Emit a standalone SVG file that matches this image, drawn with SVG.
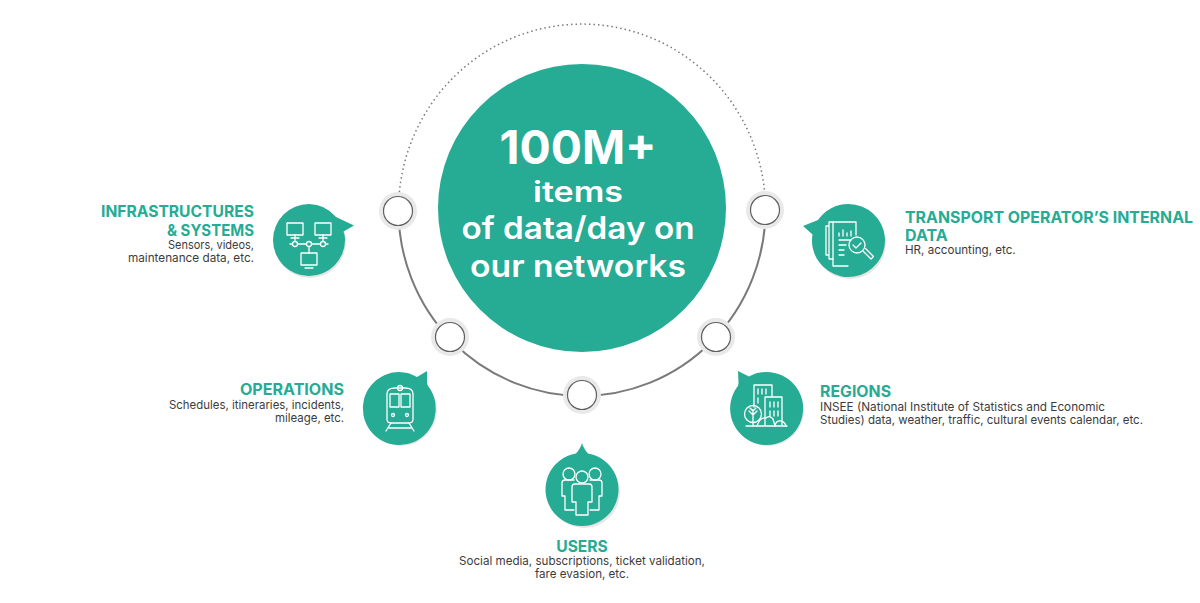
<svg xmlns="http://www.w3.org/2000/svg" width="1200" height="603" viewBox="0 0 1200 603">
<style>
text{font-family:"Inter","Open Sans","Liberation Sans",sans-serif}
.h{font-weight:700;font-size:15.600px;fill:#26ab94}
.b{font-size:11.600px;fill:#3c3c3c}
.c{font-weight:700;fill:#fff;text-anchor:middle}
.s{font-weight:600;font-size:31px}
.e{text-anchor:end}.m{text-anchor:middle}
.bub{fill:#26ab94}
.sh{fill:#000;opacity:.1}
.i{fill:none;stroke:#fff;stroke-width:1.3;stroke-linecap:round;stroke-linejoin:round}
.halo{fill:#e9e9e9}
.dot{fill:#fff;stroke:#5f5f5f;stroke-width:1.2}
</style>
<g id="connectors" fill="none" stroke="#7a7a7a">
<path d="M398.500 210A183.500 186 0 0 1 765.500 210" stroke-width="1.500" stroke-dasharray="1.500 3"/>
<path d="M398.500 210A183.500 186 0 0 0 765.500 210" stroke-width="2"/>
</g>
<g id="center">
<circle cx="582" cy="208" r="144" fill="#26ab94"/>
<text class="c" x="578" y="164" font-size="46" textLength="157" lengthAdjust="spacingAndGlyphs">100M+</text>
<text class="c" x="578" y="202" font-size="28" style="font-weight:600" textLength="90" lengthAdjust="spacingAndGlyphs">items</text>
<text class="c s" x="578" y="239" textLength="233" lengthAdjust="spacingAndGlyphs">of data/day on</text>
<text class="c s" x="578" y="277" textLength="216" lengthAdjust="spacingAndGlyphs">our networks</text>
</g>
<g id="port-1"><circle class="halo" cx="398" cy="211" r="19"/><circle class="dot" cx="398" cy="211" r="14.500"/></g>
<g id="port-2"><circle class="halo" cx="765" cy="210" r="19"/><circle class="dot" cx="765" cy="210" r="14.500"/></g>
<g id="port-3"><circle class="halo" cx="450" cy="337" r="19"/><circle class="dot" cx="450" cy="337" r="14.500"/></g>
<g id="port-4"><circle class="halo" cx="716" cy="337" r="19"/><circle class="dot" cx="716" cy="337" r="14.500"/></g>
<g id="port-5"><circle class="halo" cx="582" cy="395" r="19"/><circle class="dot" cx="582" cy="395" r="14.500"/></g>

<g id="infrastructures">
<circle class="sh" cx="310" cy="242" r="36"/>
<path class="bub" d="M309 204a36 36 0 1 0 36 36c0-3-.5-6-1.500-8.500L354 225.500 336 217a36 36 0 0 0-27-13z"/>
<g class="i">
<rect x="287" y="223" width="16" height="12"/><rect x="315" y="223" width="16" height="12"/><rect x="301" y="253" width="16" height="12"/>
<path d="M291 238h8M319 238h8M295 235v6M323 235v6M309 247v6M305 268h8"/>
<path d="M290 244h2.500M298 244h8M312 244h8M326 244h2"/><circle cx="295" cy="244" r="2.500"/><circle cx="309" cy="244" r="2.500"/><circle cx="323" cy="244" r="2.500"/>
</g>
<text class="h e" x="254" y="217" textLength="153" lengthAdjust="spacingAndGlyphs">INFRASTRUCTURES</text>
<text class="h e" x="254" y="236" textLength="87" lengthAdjust="spacingAndGlyphs">&amp; SYSTEMS</text>
<text class="b e" x="254" y="249" textLength="86" lengthAdjust="spacingAndGlyphs">Sensors, videos,</text>
<text class="b e" x="254" y="262" textLength="126" lengthAdjust="spacingAndGlyphs">maintenance data, etc.</text>
</g>

<g id="internal-data">
<circle class="sh" cx="850" cy="243" r="36"/>
<path class="bub" d="M848.500 204a36.500 36.500 0 1 1-35.500 45c-.7-3-1-5.500-1-8.500 0-2 .2-4 .5-6L803 226l15-6a36.500 36.500 0 0 1 30.500-16z"/>
<g class="i">
<path d="M829 226h-3v29h3M833 222h-4v37h4"/><path d="M856 235v-13h-23v44h15"/>
<path d="M839 236v-3M843 236v-6M847 236v-3M851 236v-5M839 240h12M839 245h7M839 250h5M839 255h5"/>
<circle cx="857" cy="245" r="8"/><path d="M853 245l3 3 5-5M863 251l8 8 2.500-2.500-8-8"/>
</g>
<text class="h" x="905" y="223" style="font-size:16px" textLength="288" lengthAdjust="spacingAndGlyphs">TRANSPORT OPERATOR’S INTERNAL</text>
<text class="h" x="905" y="241" style="font-size:16px">DATA</text>
<text class="b" x="905" y="254">HR, accounting, etc.</text>
</g>

<g id="operations">
<circle class="sh" cx="401" cy="410" r="36"/>
<path class="bub" d="M399.500 372a36.500 36.500 0 1 0 30 16c-1.500-2-2-3-2.500-4.500V371l-10 6a36.500 36.500 0 0 0-17.500-5z"/>
<g class="i">
<path d="M387 394q0-6 8-6h10q8 0 8 6v25q0 4-4 4h-18q-4 0-4-4z"/><circle cx="400" cy="388" r="2.500"/>
<rect x="390" y="394" width="9" height="13"/><rect x="401" y="394" width="9" height="13"/>
<circle cx="393" cy="415" r="1.500"/><circle cx="407" cy="415" r="1.500"/>
<path d="M391 423l-5 8M409 423l5 8M389 428h22"/>
</g>
<text class="h e" x="344" y="395" textLength="104" lengthAdjust="spacingAndGlyphs">OPERATIONS</text>
<text class="b e" x="344" y="409" textLength="175" lengthAdjust="spacingAndGlyphs">Schedules, itineraries, incidents,</text>
<text class="b e" x="344" y="422" textLength="69" lengthAdjust="spacingAndGlyphs">mileage, etc.</text>
</g>

<g id="regions">
<circle class="sh" cx="768" cy="410" r="36"/>
<path class="bub" d="M766.500 372a36.500 36.500 0 1 1-29 14.500c1-1.500 1-3 1-4.500L738 371l11 5.500a36.500 36.500 0 0 1 17.500-4.500z"/>
<g class="i">
<path d="M754 407v-22h18v12M765 425v-28h17v28M746 426h41"/>
<path d="M758 389v5M762 389v5M766 389v5M758 398v5M770 402v5M774 402v5M778 402v5M770 411v5M774 411v5M778 411v5"/>
<circle cx="753" cy="414" r="8.500"/><path d="M753 426v-16M749 411l4 4 4-4M750 408l3 3 3-3"/>
<path d="M757 426q3-9 9-8 4-3 7 1l2 7M775 426q1-6 6-5 4 1 5 5"/>
</g>
<text class="h" x="820" y="397" textLength="71" lengthAdjust="spacingAndGlyphs">REGIONS</text>
<text class="b" x="820" y="411" textLength="285" lengthAdjust="spacingAndGlyphs">INSEE (National Institute of Statistics and Economic</text>
<text class="b" x="820" y="424" textLength="323" lengthAdjust="spacingAndGlyphs">Studies) data, weather, traffic, cultural events calendar, etc.</text>
</g>

<g id="users">
<circle class="sh" cx="584" cy="492" r="36"/>
<path class="bub" d="M582 443c1 3.500 3 7 6 10.500a36.500 36.500 0 1 1-12 0c3-3.500 5-7 6-10.500z"/>
<g class="i">
<circle cx="569" cy="474" r="6"/><circle cx="582" cy="477" r="6"/><circle cx="595" cy="474" r="6"/>
<path d="M574 480h-9q-3 0-3 3v13h3v14h9M590 480h9q3 0 3 3v13h-3v14h-9"/>
<path d="M575 484h14q3 0 3 3v15h-4v13h-12v-13h-4v-15q0-3 3-3z"/>
</g>
<text class="h m" x="582" y="552">USERS</text>
<text class="b m" x="582" y="565">Social media, subscriptions, ticket validation,</text>
<text class="b m" x="582" y="578">fare evasion, etc.</text>
</g>
</svg>
